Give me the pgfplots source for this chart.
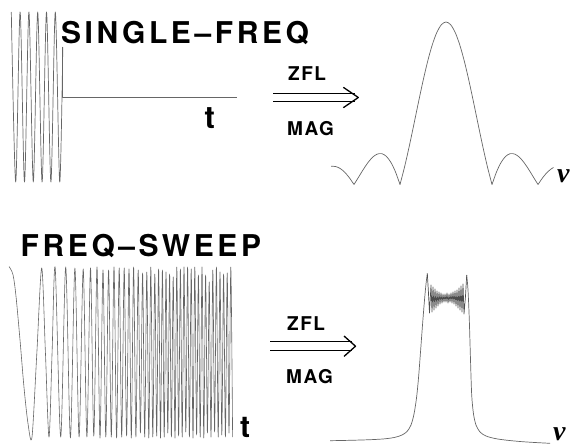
\documentclass[border=0pt]{standalone}
\usepackage{pgfplots}
\pgfplotsset{compat=1.18}
\usepackage{fontspec}
\setmainfont{TeX Gyre Heros}
\newfontfamily\nufont{Liberation Serif}
\newcommand\bigfont{\fontsize{30}{36}\selectfont\bfseries\addfontfeature{LetterSpace=12}}
\newcommand\smallfont{\fontsize{19}{22}\selectfont\bfseries\addfontfeature{LetterSpace=8}}
\newcommand\nuf{\fontsize{28}{32}\selectfont\nufont\bfseries\itshape}
\begin{document}
\begin{tikzpicture}
\begin{axis}[
  scale only axis, width=577pt, height=446pt,
  xmin=0, xmax=577, ymin=0, ymax=446, y dir=reverse,
  hide axis, clip=false,
  every axis plot/.append style={line join=round},
]
\addplot[draw=none] coordinates {(0,0)(577,446)};
% ---------- single frequency pulse
\addplot[black!60, line width=0.7pt, smooth] coordinates {
(11.3,12)(15.7,182)(20.1,12)(24.5,182)(28.9,12)(33.3,182)(37.7,12)(42.1,182)
(46.5,12)(50.9,182)(55.3,12)(59.7,182)(62.8,47)};
\addplot[black!60, line width=0.7pt] coordinates {(62.8,47)(62.8,97)(237,97)};
% ---------- sinc magnitude
\addplot[black!60, line width=0.7pt, smooth] coordinates {
(331,166.3)(335.6,166.5)(340.2,168.5)(344.8,172.3)(349.4,177.8)(354,184.5)};
\addplot[black!60, line width=0.7pt, smooth] coordinates {
(354,184.5)(358.6,177.1)(363.2,169.6)(367.8,162.8)(372.4,157.4)(377,154.2)(381.6,153.6)
(386.2,156.2)(390.8,162.2)(395.4,171.7)(400,184.5)};
\addplot[black!60, line width=0.7pt, smooth] coordinates {
(400,184.5)(404.6,166.74)(409.2,146.5)(413.8,124.72)(418.4,102.51)(423,81.05)(427.6,61.51)
(432.2,45.01)(436.8,32.48)(441.4,24.66)(446,22)(450.6,24.66)(455.2,32.48)(459.8,45.01)
(464.4,61.51)(469,81.05)(473.6,102.51)(478.2,124.72)(482.8,146.5)(487.4,166.74)(492,184.5)};
\addplot[black!60, line width=0.7pt, smooth] coordinates {
(492,184.5)(496.6,171.7)(501.2,162.2)(505.8,156.2)(510.4,153.6)(515,154.2)(519.6,157.4)
(524.2,162.8)(528.8,169.6)(533.4,177.1)(538,184.5)};
\addplot[black!60, line width=0.7pt, smooth] coordinates {
(538,184.5)(542.6,177.8)(547.2,172.3)(551.8,168.5)(553.5,167.5)};
% ---------- chirp
\addplot[black!60, line width=0.6pt, smooth] coordinates {
(9,266.5)(13,274.7)(16,296.3)(20,339.9)(24,387.4)(28,423.5)(32,437)
(36.9,352)(41.7,268)(45.4,352)(49,437)(52.1,352)(55.2,268)
(60.7,437)(65.7,267)(70.4,438)(74.9,268)(79.1,437)(83.2,269)(86.9,437)
(90.5,268)(93.8,436)(97.0,267)(100.0,438)(103.0,270)(105.8,437)(108.6,270)
(111.3,437)(114.0,267)(116.6,438)(119.2,268)(121.7,437)(124.2,268)(126.6,436)
(129.0,269)(131.3,438)(133.6,267)(135.9,437)(138.2,270)(140.4,433)(142.6,273)
(144.7,437)(146.8,272)(148.8,438)(150.8,267)(152.8,437)(154.8,274)(156.7,436)
(158.6,269)(160.5,438)(162.4,270)(164.2,437)(166.0,272)(167.8,433)(169.6,274)
(171.4,437)(173.2,277)(175.0,438)(176.8,267)(178.6,436)(180.4,269)(182.2,437)
(184.0,267)(185.8,432)(187.6,267)(189.4,437)(191.2,269)(193.0,438)(194.8,267)
(196.6,435)(198.4,275)(200.2,437)(202.0,267)(203.8,438)(205.6,275)(207.4,433)
(209.2,282)(211.0,437)(212.8,270)(214.6,432)(216.4,267)(218.2,437)(220.0,272)
(221.8,435)(223.6,274)(225.4,437)(227.2,273)(229.0,433)(230.8,267)(232.6,437)};
% ---------- flat-top spectrum
\addplot[black!60, line width=0.7pt, smooth] coordinates {
(330,440.7)(350,440.3)(370,439.7)(385,438.8)(395,437.3)(402,435)(407,431.5)(411,425)
(414,414)(416.5,398)(418.5,378)(420.5,352)(422.5,325)(424.5,300)(426,284)(427.3,273.5)};
\addplot[black!70, line width=0.7pt] coordinates {
(427.3,273.5)(428.3,290)(429.5,313)(431,285)(432,312)(433,287)(434,310)(435,289)
(436,308)(437,291)(438,306)(439,292)(440,304)(441,293)(442,303)(443,294)(444,302)
(445,294)(446,302)(447,293)(448,303)(449,294)(450,302)(451,293)(452,303)(453,292)
(454,304)(455,291)(456,306)(457,290)(458,308)(459,288)(460,310)(461,286)(462,312)
(463,284)(464,314)(465.5,296)(466.7,275)};
\addplot[black!60, line width=0.7pt, smooth] coordinates {
(466.7,275)(468,290)(469.3,320)(470.5,360)(471.7,395)(473.5,414)(476,425)(480,432)
(486,436)(495,438.5)(505,440)(520,441.5)(535,442.5)(550,443.3)};
% ---------- arrows
\addplot[black, line width=1.3pt] coordinates {(273.3,93.3)(355,93.3)};
\addplot[black, line width=1.3pt] coordinates {(273.3,101.7)(355,101.7)};
\addplot[black, line width=1.3pt] coordinates {(343.3,87.3)(358.3,97.5)(343.3,107.7)};
\addplot[black, line width=1.3pt] coordinates {(270,341.7)(352,341.7)};
\addplot[black, line width=1.3pt] coordinates {(270,350.7)(352,350.7)};
\addplot[black, line width=1.3pt] coordinates {(344,336)(355.5,346.2)(344,356.4)};
% ---------- text
\node[anchor=base west, inner sep=0pt, font=\bigfont] at (axis cs:60.8,43.3) {SINGLE--FREQ};
\node[anchor=base west, inner sep=0pt, font=\bigfont] at (axis cs:20.5,256.3) {FREQ--SWEEP};
\node[anchor=base west, inner sep=0pt, font=\smallfont] at (axis cs:288,80) {ZFL};
\node[anchor=base west, inner sep=0pt, font=\smallfont] at (axis cs:287,135) {MAG};
\node[anchor=base west, inner sep=0pt, font=\smallfont] at (axis cs:287,330) {ZFL};
\node[anchor=base west, inner sep=0pt, font=\smallfont] at (axis cs:286,383) {MAG};
\node[anchor=base west, inner sep=0pt, font=\fontsize{31}{36}\selectfont\bfseries] at (axis cs:204.5,128.3) {t};
\node[anchor=base west, inner sep=0pt, font=\fontsize{30}{36}\selectfont\bfseries] at (axis cs:240,437) {t};
\node[anchor=base west, inner sep=0pt, font=\nuf] at (axis cs:557,182) {ν};
\node[anchor=base west, inner sep=0pt, font=\nuf] at (axis cs:553,440) {ν};
\end{axis}
\end{tikzpicture}
\end{document}
